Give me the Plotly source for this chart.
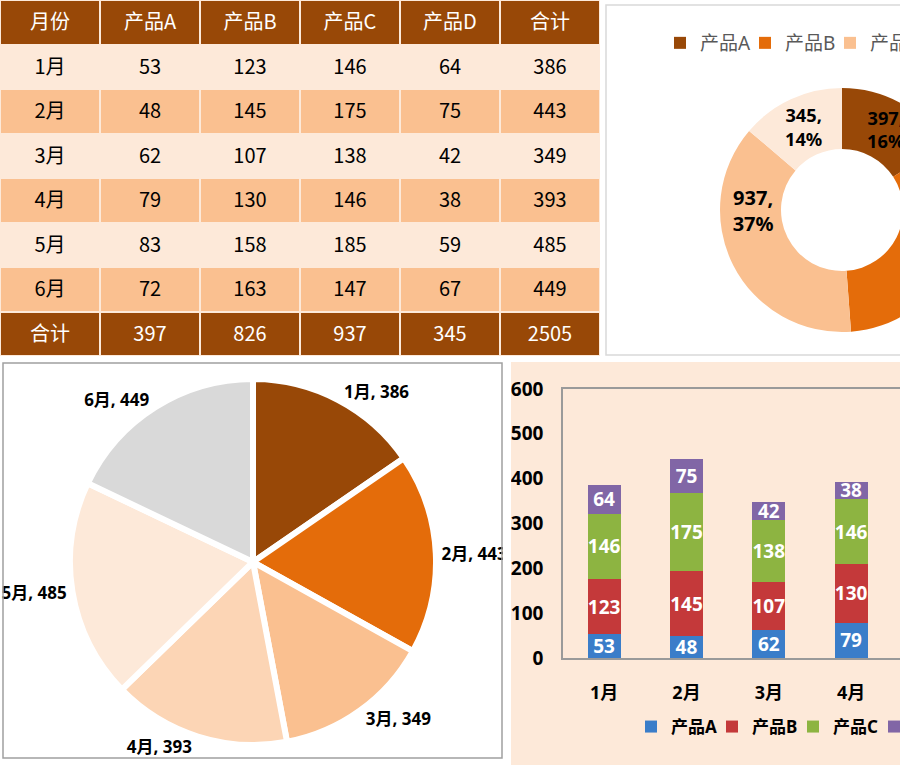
import plotly.graph_objects as go

# ---------------- data ----------------
months = ["1月", "2月", "3月", "4月", "5月", "6月"]
products = ["产品A", "产品B", "产品C", "产品D"]
prod_a = [53, 48, 62, 79, 83, 72]
prod_b = [123, 145, 107, 130, 158, 163]
prod_c = [146, 175, 138, 146, 185, 147]
prod_d = [64, 75, 42, 38, 59, 67]
table_header = ["月份", "产品A", "产品B", "产品C", "产品D", "合计"]
total_label = "合计"
y_tick_vals = [0, 100, 200, 300, 400, 500, 600]

series = [prod_a, prod_b, prod_c, prod_d]
month_totals = [sum(v) for v in zip(*series)]
product_totals = [sum(s) for s in series]
grand_total = sum(month_totals)

# ---------------- styling ----------------
W, H = 1100, 765
def fx(p): return p / W
def fy(p): return 1 - p / H

DARK = "#984807"
ORANGE = "#E46C0A"
MID = "#FAC090"
LIGHT2 = "#FCD5B5"
LIGHT = "#FDE9D9"
GREY = "#D9D9D9"
BAR_COLORS = ["#3A7DC9", "#C4393A", "#8DB441", "#8166A6"]
CHART_FONT = "Noto Sans, Noto Sans CJK SC, sans-serif"
TABLE_FONT = "Noto Sans CJK SC, Noto Sans, sans-serif"

fig = go.Figure()

# ---------------- table (drawn as heatmap grids) ----------------
table_rows = [table_header]
for i, m in enumerate(months):
    table_rows.append([m] + [s[i] for s in series] + [month_totals[i]])
table_rows.append([total_label] + product_totals + [grand_total])
n_rows, n_cols = len(table_rows), len(table_header)
is_dark_row = [True] + [False] * len(months) + [True]
# body band code: 0 = light band, 1 = mid band
band = [None] + [i % 2 for i in range(len(months))] + [None]

body_z, body_text, dark_z, dark_text = [], [], [], []
for r, row in enumerate(table_rows):
    if is_dark_row[r]:
        body_z.append([None] * n_cols)
        body_text.append([""] * n_cols)
        dark_z.append([0] * n_cols)
        dark_text.append([str(v) for v in row])
    else:
        body_z.append([band[r]] * n_cols)
        body_text.append([str(v) for v in row])
        dark_z.append([None] * n_cols)
        dark_text.append([""] * n_cols)

for z, txt, cscale, tcolor in [
    (body_z, body_text, [[0, LIGHT], [1, MID]], "black"),
    (dark_z, dark_text, [[0, DARK], [1, DARK]], "white"),
]:
    fig.add_trace(go.Heatmap(
        z=z, x=list(range(n_cols)), y=list(range(n_rows)),
        text=txt, texttemplate="%{text}",
        textfont=dict(family=TABLE_FONT, size=20, color=tcolor),
        colorscale=cscale, zmin=0, zmax=1,
        showscale=False, xgap=2, ygap=2, hoverinfo="text",
        xaxis="x2", yaxis="y2",
    ))

# ---------------- donut ----------------
fig.add_trace(go.Pie(
    labels=products, values=product_totals, hole=0.5, sort=False,
    direction="clockwise", rotation=0, automargin=False,
    marker=dict(colors=[DARK, ORANGE, MID, LIGHT], line=dict(width=0)),
    texttemplate="%{value},<br>%{percent:.0%}", textposition="inside",
    insidetextorientation="horizontal",
    textfont=dict(family=CHART_FONT, size=20, color="black", weight="bold"),
    domain=dict(x=[fx(720), fx(964)], y=[fy(332), fy(88)]),
    legend="legend2", hoverinfo="label+value+percent",
))

# ---------------- pie ----------------
fig.add_trace(go.Pie(
    labels=months, values=month_totals, sort=False,
    direction="clockwise", rotation=0, automargin=False,
    marker=dict(colors=[DARK, ORANGE, MID, LIGHT2, LIGHT, GREY],
                line=dict(color="white", width=6)),
    texttemplate="%{label}, %{value}", textposition="outside",
    textfont=dict(family=CHART_FONT, size=17, color="black", weight="bold"),
    domain=dict(x=[fx(70), fx(436)], y=[fy(745), fy(379)]),
    showlegend=False,
))

# ---------------- stacked bars ----------------
for name, s, c in zip(products, series, BAR_COLORS):
    fig.add_trace(go.Bar(
        x=months, y=s, name=name, marker=dict(color=c, line=dict(width=0)),
        text=s, textposition="inside", insidetextanchor="middle",
        constraintext="none", textangle=0,
        textfont=dict(family=CHART_FONT, size=19, color="white", weight="bold"),
        legend="legend",
    ))

fig.update_layout(
    width=W, height=H, margin=dict(l=0, r=0, t=0, b=0, autoexpand=False),
    paper_bgcolor="white", plot_bgcolor=LIGHT,
    barmode="stack", bargap=0.6,
    font=dict(family=CHART_FONT),
    xaxis=dict(domain=[fx(563), fx(1057)], anchor="y", showline=True,
               linecolor="#9A9A9A", linewidth=1.5, mirror=True, ticks="",
               showgrid=False, ticklabelstandoff=18, automargin=False,
               tickfont=dict(family=CHART_FONT, size=18, color="black", weight="bold")),
    yaxis=dict(domain=[fy(658), fy(389)], anchor="x", range=[0, 600],
               tickvals=y_tick_vals, showline=True, linecolor="#9A9A9A",
               linewidth=1.5, mirror=True, ticks="", showgrid=False,
               zeroline=False, ticklabelstandoff=14, automargin=False,
               tickfont=dict(family=CHART_FONT, size=19, color="black", weight="bold")),
    xaxis2=dict(domain=[0, fx(600)], anchor="y2", visible=False,
                range=[-0.5, n_cols - 0.5], automargin=False),
    yaxis2=dict(domain=[fy(356), 1], anchor="x2", visible=False,
                range=[n_rows - 0.5, -0.5], automargin=False),
    legend=dict(orientation="h", x=fx(631), y=fy(709), xanchor="left", yanchor="top",
                bgcolor="rgba(0,0,0,0)", traceorder="normal", entrywidth=36,
                font=dict(family=CHART_FONT, size=17, color="black", weight="bold")),
    legend2=dict(orientation="h", x=fx(660), y=fy(24), xanchor="left", yanchor="top",
                 bgcolor="rgba(0,0,0,0)", traceorder="normal", entrywidth=40,
                 font=dict(family=CHART_FONT, size=19, color="#595959")),
    shapes=[
        dict(type="rect", xref="paper", yref="paper", layer="below",
             x0=fx(511), x1=1, y0=0, y1=fy(362), fillcolor=LIGHT, line=dict(width=0)),
        dict(type="rect", xref="paper", yref="paper", layer="below",
             x0=fx(606), x1=fx(1092), y0=fy(355), y1=fy(5),
             fillcolor="rgba(0,0,0,0)", line=dict(color="#D9D9D9", width=1.5)),
        dict(type="rect", xref="paper", yref="paper", layer="above",
             x0=0, x1=fx(505), y0=0, y1=fy(760), fillcolor="white", line=dict(width=0)),
        dict(type="rect", xref="paper", yref="paper", layer="above",
             x0=fx(503), x1=fx(511), y0=0, y1=fy(362), fillcolor="white", line=dict(width=0)),
        dict(type="rect", xref="paper", yref="paper", layer="above",
             x0=fx(3), x1=fx(502), y0=fy(758), y1=fy(363),
             fillcolor="rgba(0,0,0,0)", line=dict(color="#A0A0A0", width=1.5)),
    ],
)

fig.write_html("out.html",
               post_script="document.body.style.margin='0';document.body.style.overflow='hidden';")
